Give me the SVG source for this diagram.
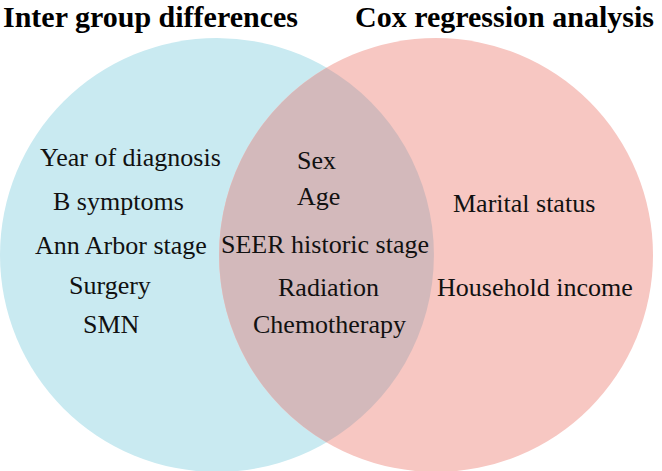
<svg xmlns="http://www.w3.org/2000/svg" width="662" height="471" viewBox="0 0 662 471">
  <style>
    .title { font-weight: bold; font-size: 30px; fill: #000; }
    .lbl { font-size: 26px; fill: #111; }
  </style>
  <rect width="662" height="471" fill="#ffffff"/>
  <g id="set-inter-group">
    <circle cx="217" cy="255" r="217" fill="#c9eaf1"/>
  </g>
  <g id="set-cox">
    <circle cx="436" cy="255" r="217" fill="#f7c7c2"/>
  </g>
  <g id="overlap">
    <path d="M326.5 67.7 A217 217 0 0 1 326.5 442.3 A217 217 0 0 1 326.5 67.7 Z" fill="#d3b9bb"/>
  </g>
  <g id="connectors"></g>
  <g id="texts" font-family="'Liberation Serif', 'Times New Roman', 'DejaVu Serif', serif">
    <g id="titles">
      <text class="title" x="3" y="27">Inter group differences</text>
      <text class="title" x="355" y="27">Cox regression analysis</text>
    </g>
    <g id="left-only">
      <text class="lbl" x="40" y="166">Year of diagnosis</text>
      <text class="lbl" x="53" y="210">B symptoms</text>
      <text class="lbl" x="35" y="254">Ann Arbor stage</text>
      <text class="lbl" x="69" y="294">Surgery</text>
      <text class="lbl" x="83" y="333">SMN</text>
    </g>
    <g id="both">
      <text class="lbl" x="297" y="169">Sex</text>
      <text class="lbl" x="297" y="205">Age</text>
      <text class="lbl" x="221" y="253">SEER historic stage</text>
      <text class="lbl" x="278" y="296">Radiation</text>
      <text class="lbl" x="253" y="333">Chemotherapy</text>
    </g>
    <g id="right-only">
      <text class="lbl" x="453" y="212">Marital status</text>
      <text class="lbl" x="437" y="296">Household income</text>
    </g>
  </g>
</svg>
